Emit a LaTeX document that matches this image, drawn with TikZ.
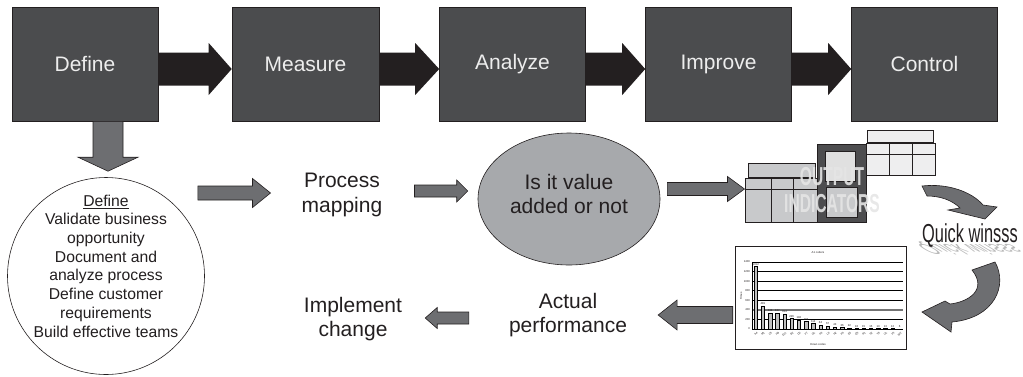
\documentclass[tikz,border=0pt]{standalone}
\usepackage{fontspec}
\setmainfont{Liberation Sans}
\usetikzlibrary{calc,shapes.geometric}

\definecolor{stagefill}{HTML}{4B4C4E}
\definecolor{ink}{HTML}{231F20}
\definecolor{arrowgray}{HTML}{6D6E71}
\definecolor{ovalgray}{HTML}{A7A9AC}
\definecolor{lighttab}{HTML}{C8C9CB}
\definecolor{paletab}{HTML}{EEEEEF}
\definecolor{darktab}{HTML}{4D4D4F}

% horizontal block arrow: style, tail point, tip point,
% shaft half-height, head half-height, signed head length (pt)
\newcommand\hblock[6]{%
  \path[#1] let \p1=(#2), \p2=(#3) in
    (\x1,{\y2+#4pt}) -- ({\x2-(#6pt)},{\y2+#4pt}) -- ({\x2-(#6pt)},{\y2+#5pt})
    -- (\x2,\y2) -- ({\x2-(#6pt)},{\y2-#5pt}) -- ({\x2-(#6pt)},{\y2-#4pt})
    -- (\x1,{\y2-#4pt}) -- cycle;}
% vertical block arrow pointing down
\newcommand\vblock[6]{%
  \path[#1] let \p1=(#2), \p2=(#3) in
    ({\x2-#4pt},\y1) -- ({\x2-#4pt},{\y2+#6pt}) -- ({\x2-#5pt},{\y2+#6pt})
    -- (\x2,\y2) -- ({\x2+#5pt},{\y2+#6pt}) -- ({\x2+#4pt},{\y2+#6pt})
    -- ({\x2+#4pt},\y1) -- cycle;}
% chart value to vertical position (0..1400 over 67pt)
\newcommand\chy[1]{329-#1*0.0478571}

\begin{document}
\begin{tikzpicture}[x=1pt,y=-1pt,
  stage/.style={draw=ink, line width=0.6pt, fill=stagefill, minimum width=146pt,
    minimum height=114pt, inner sep=0pt, text=white!93!black,
    font=\fontsize{21}{25}\selectfont},
  heavy/.style={fill=ink},
  grayarrow/.style={fill=arrowgray, draw=ink, line width=0.6pt, line join=miter},
  bigtext/.style={align=center, text=ink, font=\fontsize{21}{24.5}\selectfont, inner sep=0pt},
  tab/.style={draw=ink, line width=1pt},
  tiny/.style={font=\fontsize{2.8}{3}\selectfont, inner sep=0.3pt, text=ink},
]
\useasboundingbox (0,0) rectangle (1023,376);

% DMAIC stages
\node[stage] (define) at (85,64) {Define};
\node[stage, minimum width=147pt] (measure) at (305.5,64) {Measure};
\node[stage] (analyze) at (512.5,64) {Analyze};
\node[stage] (improve) at (718.5,64) {Improve};
\node[stage] (control) at (924.5,64) {Control};

\hblock{heavy}{define.east}{$(measure.west)+(0,5)$}{16.5}{26}{23}
\hblock{heavy}{measure.east}{$(analyze.west)+(0,5)$}{16.5}{26}{24}
\hblock{heavy}{analyze.east}{$(improve.west)+(0,5)$}{16.5}{26}{23}
\hblock{heavy}{improve.east}{$(control.west)+(0,5)$}{16.5}{26}{23}

% Define details
\node[circle, draw=ink, line width=0.6pt, fill=white, minimum size=197pt, inner sep=0pt] (circ) at (106,276) {};
\node[align=center, font=\fontsize{15.7}{18.7}\selectfont, text=ink, inner sep=0pt] (circtxt)
  at (106,266) {\underline{Define}\\Validate business\\opportunity\\Document and\\analyze process\\Define customer\\requirements\\Build effective teams};
\vblock{grayarrow}{$(define.south)+(23,0)$}{$(circ.north)+(2,-6)$}{15}{30}{14}

% middle row
\node[bigtext] (procmap) at (342,195) {Process\\mapping};
\node[ellipse, draw=ink, line width=0.6pt, fill=ovalgray, minimum width=182pt, minimum height=132pt, inner sep=0pt] (isva) at (569,199) {};
\node[bigtext] (isvatxt) at ([yshift=5pt]isva.center) {Is it value\\added or not};

% output indicators sketch
\draw[tab, fill=lighttab] (748,163) rectangle (815,177);
\node[tab, fill=lighttab, minimum width=72pt, minimum height=44pt, inner sep=0pt] (tblL) at (781,200) {};
\draw[tab] (771,178) -- (771,222) (793,178) -- (793,222) (745,189) -- (817,189);
\draw[tab, fill=darktab] (817,144) rectangle (866,222);
\draw[tab, fill=white!88!black] (825,151) rectangle (855,181);
\draw[tab, fill=lighttab] (826,187) rectangle (857,217);
\draw[tab, fill=paletab] (867,130) rectangle (933,142);
\draw[tab, fill=paletab] (866,143) rectangle (935,175);
\draw[tab] (889,143) -- (889,175) (912,143) -- (912,175) (866,154) -- (935,154);
\node[anchor=base, font=\fontsize{26}{26}\bfseries, text=white!90!black, opacity=0.9, inner sep=0pt] (outlbl1) at (832,185) {\scalebox{0.6}[1]{OUTPUT}};
\node[anchor=base, font=\fontsize{26}{26}\bfseries, text=white!90!black, opacity=0.9, inner sep=0pt] (outlbl2) at (832,212) {\scalebox{0.6}[1]{INDICATORS}};

\hblock{grayarrow}{$(circ.east)+(-7,0)$}{$(procmap.west)+(-31,-2)$}{7}{14.5}{18}
\hblock{grayarrow}{$(procmap.east)+(32,0)$}{$(isva.west)+(-10,-8)$}{6}{11}{11}
\hblock{grayarrow}{$(isva.east)+(7,0)$}{$(tblL.west)+(0,-11)$}{6.5}{12.5}{17}

% quick wins
\path[grayarrow] (922,186) .. controls (948,183) and (972,192) .. (983,205) -- (997,207)
  -- (985,219) -- (948,210) -- (960,208) .. controls (952,200) and (940,196) .. (927,196) -- cycle;
\node[anchor=base, font=\fontsize{26}{26}\selectfont, text=black!40, opacity=0.7,
  yscale=-0.55, xslant=0.9, transform shape, inner sep=0pt] (qwshadow) at (963,244) {\scalebox{0.63}[1]{Quick winsss}};
\node[anchor=base, font=\fontsize{26}{26}\selectfont, text=ink, inner sep=0pt] (qw) at (970,242) {\scalebox{0.63}[1]{Quick winsss}};
\path[grayarrow] (972,270) -- (995,262) .. controls (1008,285) and (995,318) .. (952,322)
  -- (951,332) -- (922,312) -- (945,301) -- (950,304) .. controls (968,302) and (988,290) .. (972,270) -- cycle;

% Pareto chart
\node[draw=ink, line width=0.5pt, fill=white, minimum width=171pt, minimum height=103pt, inner sep=0pt] (chart) at (820.5,297.5) {};
\node[tiny] (charttitle) at (818,253) {A1 cutters};
\foreach \v in {0,200,...,1400}{
  \draw[line width=0.5pt] (752,{\chy{\v}}) -- (903,{\chy{\v}});
  \node[tiny, anchor=east] at (750.5,{\chy{\v}}) {\v};
}
\draw[black!55, line width=1.3pt] (752,{\chy{400}}) -- (903,{\chy{400}});
\draw[line width=0.5pt] (752,262) -- (752,329);
\foreach \h/\c [count=\i from 0] in {1312/A4,481/M1,338/C3,337/H8,314/E11,226/B2,192/D5,164/F7,114/G1,84/K3,67/L6,43/N2,36/P4,22/E5,18/Q3,15/R1,15/S2,13/T6,13/U1,12/V3,6/W2}{
  \draw[fill=black!25, line width=0.3pt] ({754+7.2*\i},329) rectangle ({757.4+7.2*\i},{\chy{\h}});
  \node[tiny, anchor=south] at ({755.7+7.2*\i},{\chy{\h}-0.5}) {\h};
  \node[tiny, rotate=45, anchor=north east] at ({756.5+7.2*\i},331) {\c};
}
\node[tiny, rotate=90] (yttl) at (741,296) {Times};
\node[tiny] (xttl) at (818,344) {Down codes};

% bottom row
\node[bigtext] (actual) at (568,315) {Actual\\performance};
\node[bigtext] (implement) at (353,319) {Implement\\change};
\hblock{grayarrow}{$(chart.west)+(-2,0)$}{$(actual.east)+(31,0)$}{8.5}{15}{-19}
\hblock{grayarrow}{$(actual.west)+(-40,0)$}{$(implement.east)+(23,-1)$}{6}{10.5}{-12}
\end{tikzpicture}
\end{document}
